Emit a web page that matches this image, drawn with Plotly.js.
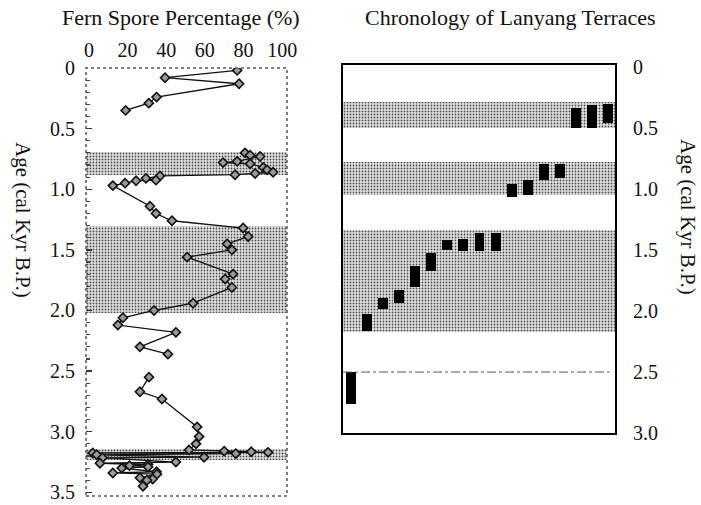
<!DOCTYPE html>
<html>
<head>
<meta charset="utf-8">
<script src="https://cdn.plot.ly/plotly-3.0.1.min.js"></script>
<style>
  html, body { margin: 0; padding: 0; background: #fff; }
  #chart { width: 701px; height: 505px; }
</style>
</head>
<body>
<div id="chart"></div>
<script>
// Fern spore record (age in cal kyr B.P., percentage); null breaks the line between core sections
const sporeAge = [0.02, 0.08, 0.13, 0.24, 0.29, 0.35, null,
  0.70, 0.72, 0.73, 0.77, 0.78, 0.79, 0.82, 0.84, 0.86, 0.87, 0.88, 0.89, 0.91, 0.925, 0.93, 0.95, 0.97,
  1.14, 1.20, 1.26, 1.32, 1.39, 1.45, 1.50, 1.56, 1.70, 1.74, 1.81, 1.94, 2.00, 2.06, 2.12, 2.18, 2.30, 2.36, null,
  2.55, 2.67, 2.73, 2.96, 3.04, 3.10, 3.15, 3.16, 3.165, 3.17, 3.175, 3.18, 3.19, 3.21, 3.215, 3.25, 3.26,
  3.27, 3.28, 3.29, 3.30, 3.33, 3.34, 3.35, 3.38, 3.39, 3.40, 3.45];
const sporePct = [76.7, 39.4, 77.7, 35, 31, 19, null,
  80.8, 83.4, 88.6, 76.7, 69.4, 83.4, 90.2, 92.2, 95.3, 86, 75.6, 36.8, 29.5, 34.7, 24.4, 18.7, 12.4,
  31.6, 34.7, 43, 79.8, 82.4, 71.5, 74, 50.8, 74.6, 70.5, 74, 53.9, 33.7, 17.6, 15, 45, 26.4, 40.9, null,
  31.1, 26.4, 37.8, 56, 57, 55.4, 51.8, 70, 84, 92.7, 2, 76, 4, 59.6, 7, 45, 5.7,
  30.6, 21, 30.6, 17, 35, 12.4, 35.2, 26.4, 33, 30, 28];

// Shaded intervals (start, end in cal kyr B.P.)
const sporeBandStart = [0.69, 1.30, 3.14];
const sporeBandEnd   = [0.88, 2.02, 3.23];
const terraceBandStart = [0.28, 0.78, 1.33];
const terraceBandEnd   = [0.50, 1.05, 2.17];

// Terrace age ranges, oldest (left) to youngest (right)
const terraceIndex = [1, 2, 3, 4, 5, 6, 7, 8, 9, 10, 11, 12, 13, 14, 15, 16, 17];
const terraceAgeMin = [2.50, 2.02, 1.89, 1.83, 1.63, 1.52, 1.42, 1.41, 1.36, 1.36, 0.96, 0.92, 0.79, 0.79, 0.33, 0.31, 0.30];
const terraceAgeMax = [2.76, 2.16, 1.98, 1.93, 1.80, 1.67, 1.50, 1.51, 1.51, 1.51, 1.06, 1.05, 0.92, 0.91, 0.50, 0.50, 0.46];
const terraceRefAge = 2.5;
const terraceMidLine = 1.5;

const yTicks = [0, 0.5, 1.0, 1.5, 2.0, 2.5, 3.0, 3.5];
const yTickText = ['0', '0.5', '1.0', '1.5', '2.0', '2.5', '3.0', '3.5'];
const xTicks = [0, 20, 40, 60, 80, 100];

const FONT = 'Liberation Serif';
const X1 = [-1.5, 102.5];
const X2 = [0.5, 17.44];

const dotPattern = { shape: '.', fgcolor: '#4a4a4a', bgcolor: '#e4e4e4', size: 3, solidity: 0.28 };

const traces = [
  {
    type: 'bar', xaxis: 'x', yaxis: 'y',
    x: sporeBandStart.map(() => (X1[0] + X1[1]) / 2),
    y: sporeBandEnd.map((e, i) => e - sporeBandStart[i]),
    base: sporeBandStart,
    width: X1[1] - X1[0],
    marker: { color: '#e4e4e4', line: { width: 0 }, pattern: dotPattern },
    hoverinfo: 'skip', showlegend: false
  },
  {
    type: 'scatter', mode: 'lines+markers', xaxis: 'x', yaxis: 'y',
    x: sporePct, y: sporeAge, connectgaps: false,
    line: { color: '#111', width: 1.3 },
    marker: { symbol: 'diamond', size: 7, color: '#9a9a9a', line: { color: '#111', width: 1.6 } },
    showlegend: false
  },
  {
    type: 'bar', xaxis: 'x2', yaxis: 'y2',
    x: terraceBandStart.map(() => (X2[0] + X2[1]) / 2),
    y: terraceBandEnd.map((e, i) => e - terraceBandStart[i]),
    base: terraceBandStart,
    width: X2[1] - X2[0],
    marker: { color: '#e4e4e4', line: { width: 0 }, pattern: dotPattern },
    hoverinfo: 'skip', showlegend: false
  },
  {
    type: 'bar', xaxis: 'x2', yaxis: 'y2',
    x: terraceIndex,
    y: terraceAgeMax.map((m, i) => m - terraceAgeMin[i]),
    base: terraceAgeMin,
    width: 0.62,
    marker: { color: '#000', line: { width: 0 } },
    showlegend: false
  }
];

const layout = {
  width: 701, height: 505,
  margin: { l: 0, r: 0, t: 0, b: 0 },
  paper_bgcolor: '#fff', plot_bgcolor: 'rgba(0,0,0,0)',
  barmode: 'overlay', bargap: 0,
  showlegend: false,
  font: { family: FONT, size: 20, color: '#111' },
  xaxis: {
    domain: [86 / 701, 287 / 701], range: X1, side: 'top',
    tickvals: xTicks, ticks: '', showgrid: false, zeroline: false, showline: false,
    ticklabelstandoff: 6, anchor: 'y', tickfont: { family: FONT, size: 20 }
  },
  yaxis: {
    domain: [1 - 496 / 505, 1 - 68 / 505], range: [3.53, 0],
    tickvals: yTicks, ticktext: yTickText, ticks: 'inside', ticklen: 6, tickcolor: '#333', tickwidth: 1.5,
    minor: { dtick: 0.1, ticks: 'inside', ticklen: 4, tickcolor: '#444', tickwidth: 1.2, showgrid: false },
    showgrid: false, zeroline: false, showline: false, ticklabelstandoff: 10, anchor: 'x',
    tickfont: { family: FONT, size: 20 }
  },
  xaxis2: {
    domain: [343 / 701, 615 / 701], range: X2,
    showticklabels: false, ticks: '', showgrid: false, zeroline: false,
    showline: true, linecolor: '#000', linewidth: 2, mirror: true, anchor: 'y2'
  },
  yaxis2: {
    domain: [1 - 433 / 505, 1 - 65 / 505], range: [3.0, -0.02], side: 'right',
    tickvals: yTicks.slice(0, 7), ticktext: yTickText.slice(0, 7), ticks: '',
    showgrid: false, zeroline: false,
    showline: true, linecolor: '#000', linewidth: 2, mirror: true,
    ticklabelstandoff: 12, anchor: 'x2', tickfont: { family: FONT, size: 20 }
  },
  shapes: [
    // dotted frame round the spore record
    { type: 'rect', xref: 'x domain', yref: 'y domain', x0: 0, x1: 1, y0: 0, y1: 1,
      line: { color: '#555', width: 1.5, dash: 'dot' }, layer: 'above' },
    // reference lines in the terrace panel
    { type: 'line', xref: 'x2', yref: 'y2', x0: X2[0], x1: 17.1, y0: terraceRefAge, y1: terraceRefAge,
      line: { color: '#555', width: 1, dash: 'dashdot' } },
    { type: 'line', xref: 'x2', yref: 'y2', x0: X2[0], x1: X2[1], y0: terraceMidLine, y1: terraceMidLine,
      line: { color: '#888', width: 1 }, layer: 'below' }
  ],
  annotations: [
    { text: 'Fern Spore Percentage (%)', xref: 'paper', yref: 'paper', x: 181 / 701, y: 1 - 17 / 505,
      xanchor: 'center', yanchor: 'middle', showarrow: false, font: { family: FONT, size: 22 } },
    { text: 'Chronology of Lanyang Terraces', xref: 'paper', yref: 'paper', x: 510 / 701, y: 1 - 17 / 505,
      xanchor: 'center', yanchor: 'middle', showarrow: false, font: { family: FONT, size: 22 } },
    { text: 'Age (cal Kyr B.P.)', xref: 'paper', yref: 'paper', x: 23 / 701, y: 1 - 220 / 505,
      xanchor: 'center', yanchor: 'middle', textangle: 90, showarrow: false, font: { family: FONT, size: 21 } },
    { text: 'Age (cal Kyr B.P.)', xref: 'paper', yref: 'paper', x: 688 / 701, y: 1 - 217 / 505,
      xanchor: 'center', yanchor: 'middle', textangle: 90, showarrow: false, font: { family: FONT, size: 21 } }
  ]
};

Plotly.newPlot('chart', traces, layout, { staticPlot: true, displayModeBar: false });
</script>
</body>
</html>
